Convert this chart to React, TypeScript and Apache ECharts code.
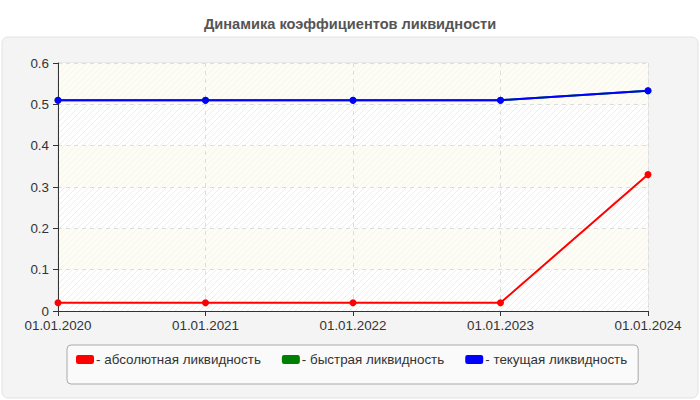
import React, { useEffect, useRef } from "react";
import * as echarts from "echarts";

const categories = ["01.01.2020", "01.01.2021", "01.01.2022", "01.01.2023", "01.01.2024"];
const absoluteLiquidity = [0.02, 0.02, 0.02, 0.02, 0.33];
const quickLiquidity = [0.51, 0.51, 0.51, 0.51, 0.533];
const currentLiquidity = [0.51, 0.51, 0.51, 0.51, 0.533];
const seriesNames = ["абсолютная ликвидность", "быстрая ликвидность", "текущая ликвидность"];
const seriesColors = ["#ff0000", "#008000", "#0000ff"];
const titleText = "Динамика коэффициентов ликвидности";

function makePattern(bg: string, line: string) {
  const c = document.createElement("canvas");
  c.width = 6;
  c.height = 6;
  const ctx = c.getContext("2d")!;
  ctx.fillStyle = bg;
  ctx.fillRect(0, 0, 6, 6);
  ctx.strokeStyle = line;
  ctx.lineWidth = 1;
  ctx.beginPath();
  ctx.moveTo(-1, 7);
  ctx.lineTo(7, -1);
  ctx.moveTo(-1, 1);
  ctx.lineTo(1, -1);
  ctx.moveTo(5, 7);
  ctx.lineTo(7, 5);
  ctx.stroke();
  return { image: c, repeat: "repeat" as const };
}

export default function App() {
  const ref = useRef<HTMLDivElement>(null);
  useEffect(() => {
    if (!ref.current) return;
    const chart = echarts.init(ref.current, undefined, { renderer: "svg" });
    const font = "'Liberation Sans', Arial, sans-serif";
    const hatchA = makePattern("#ffffff", "#ededea");
    const hatchB = makePattern("#fdfdf6", "#f5f5ef");
    const data = [absoluteLiquidity, quickLiquidity, currentLiquidity];
    chart.setOption({
      animation: false,
      textStyle: { fontFamily: font },
      graphic: [
        {
          type: "rect",
          z: -10,
          shape: { x: 2, y: 37, width: 696, height: 361, r: 6 },
          style: { fill: "#f4f4f4", stroke: "#e2e2e2", lineWidth: 1 },
        },
      ],
      title: {
        text: titleText,
        left: "center",
        top: 11,
        textStyle: { fontSize: 14.6, fontWeight: "bold", color: "#555555", fontFamily: font },
      },
      grid: {
        left: 58,
        right: 52,
        top: 63,
        bottom: 89,
        show: true,
        backgroundColor: "transparent",
        borderColor: "#dddddd",
        borderWidth: 1,
      },
      legend: {
        left: 67,
        top: 345,
        padding: [8, 11, 18, 9],
        backgroundColor: "#fafafa",
        borderColor: "#aaaaaa",
        borderWidth: 1,
        borderRadius: 4,
        itemWidth: 18,
        itemHeight: 9,
        itemGap: 21,
        icon: "roundRect",
        formatter: (n: string) => "- " + n,
        textStyle: { fontSize: 13.4, color: "#333333", fontFamily: font, padding: [0, 0, 0, -3] },
        data: seriesNames,
      },
      xAxis: {
        type: "category",
        data: categories,
        boundaryGap: false,
        axisLine: { lineStyle: { color: "#333333", width: 1 } },
        axisTick: { show: true, length: 5, lineStyle: { color: "#333333" } },
        axisLabel: { color: "#333333", fontSize: 13.4, lineHeight: 14, margin: 7, fontFamily: font },
        splitLine: { show: true, lineStyle: { color: "#dddddd", type: [4, 4] } },
      },
      yAxis: {
        type: "value",
        min: 0,
        max: 0.6,
        interval: 0.1,
        axisLine: { show: true, lineStyle: { color: "#333333", width: 1 } },
        axisTick: { show: true, length: 5, lineStyle: { color: "#333333" } },
        axisLabel: { color: "#333333", fontSize: 13.4, lineHeight: 12, margin: 9, fontFamily: font },
        splitLine: { show: true, lineStyle: { color: "#dddddd", type: [4, 4] } },
        splitArea: { show: true, areaStyle: { color: [hatchA, hatchB] } },
      },
      series: seriesNames.map((name, i) => ({
        name,
        type: "line",
        data: data[i],
        color: seriesColors[i],
        symbol: "circle",
        symbolSize: 7,
        lineStyle: { width: 2, color: seriesColors[i] },
        itemStyle: { color: seriesColors[i] },
        z: 2 + (i === 1 ? 0 : i),
      })),
    });
    return () => chart.dispose();
  }, []);
  return (
    <div
      ref={ref}
      style={{ position: "fixed", left: 0, top: 0, width: 700, height: 400, background: "#ffffff" }}
    />
  );
}
